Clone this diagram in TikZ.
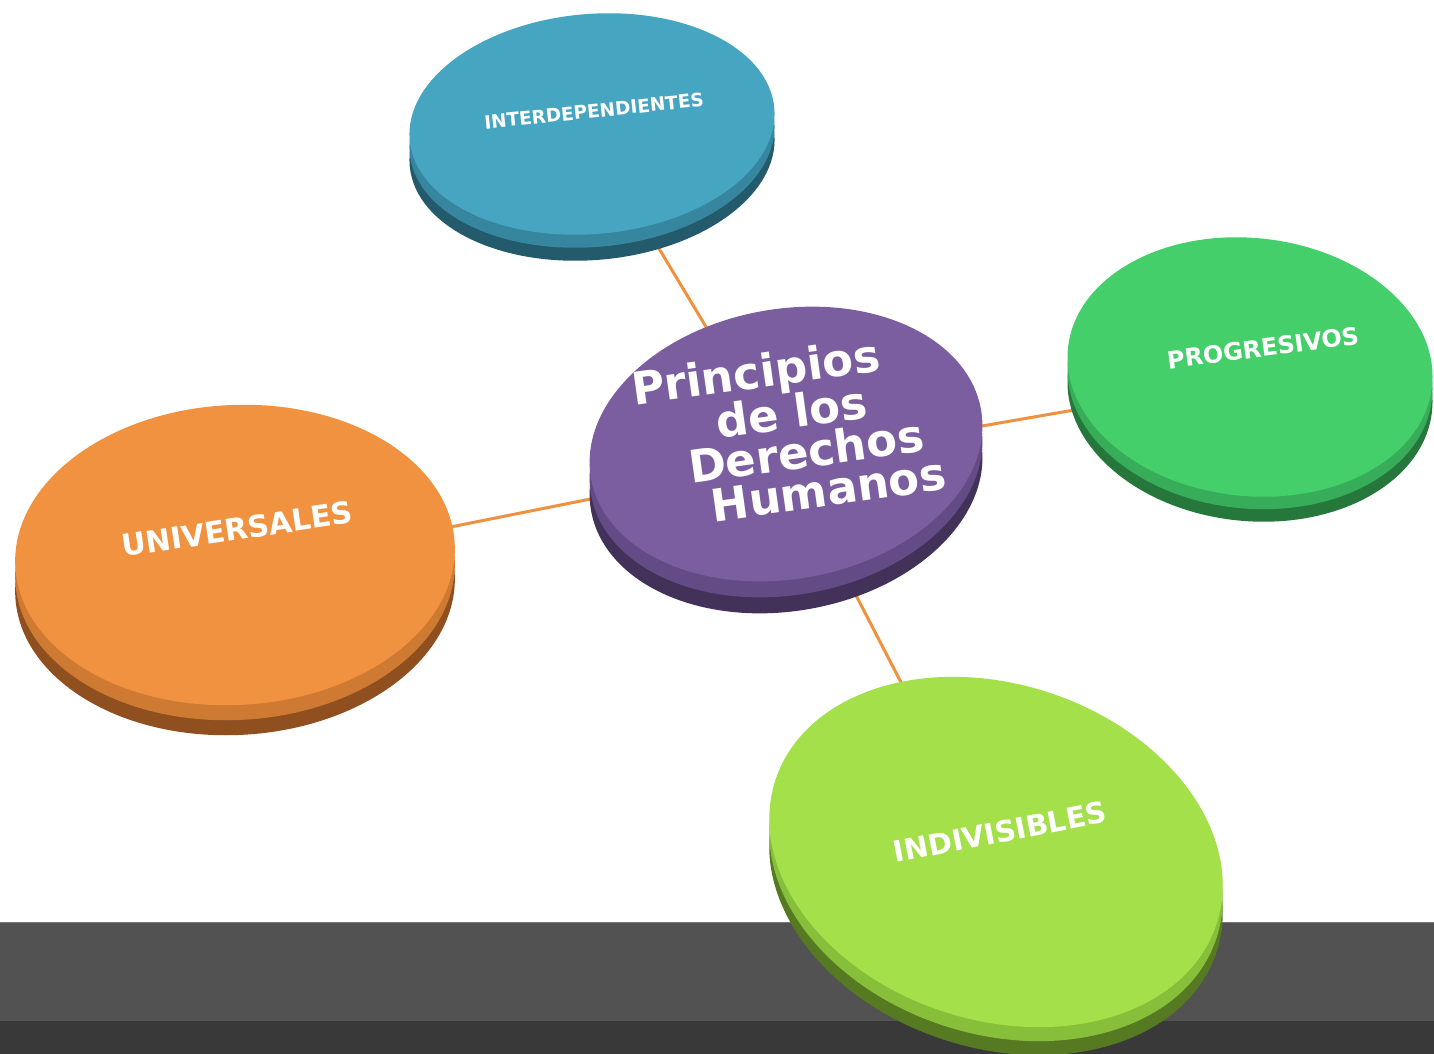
\documentclass[tikz,border=0pt]{standalone}
\usepackage{fontspec}
\newfontfamily\discfont{DejaVu Sans}
\usetikzlibrary{shapes.geometric}
\definecolor{tl-top}{HTML}{46A5C1}
\definecolor{tl-mid}{HTML}{36869F}
\definecolor{tl-side}{HTML}{235A6C}
\definecolor{pu-top}{HTML}{7B5EA0}
\definecolor{pu-mid}{HTML}{634C85}
\definecolor{pu-side}{HTML}{42325A}
\definecolor{or-top}{HTML}{F0923F}
\definecolor{or-mid}{HTML}{CF7A32}
\definecolor{or-side}{HTML}{8F4F1E}
\definecolor{gr-top}{HTML}{44CF6B}
\definecolor{gr-mid}{HTML}{37AD59}
\definecolor{gr-side}{HTML}{25773B}
\definecolor{li-top}{HTML}{A4E04A}
\definecolor{li-mid}{HTML}{88BF3A}
\definecolor{li-side}{HTML}{557A22}
\definecolor{link}{HTML}{F0913F}
\definecolor{band}{HTML}{525252}
\definecolor{band-low}{HTML}{393939}
\definecolor{band-edge}{HTML}{7A7A7A}
\pgfdeclarelayer{bg}
\pgfsetlayers{bg,main}

\begin{document}
\begin{tikzpicture}[x=1pt,y=-1pt,
    disc/.style={ellipse,inner sep=0pt,outer sep=0pt},
    word/.style={text=white,align=center,inner sep=0pt},
    link/.style={draw=link,line width=3pt}]
  \useasboundingbox (0,0) rectangle (1434,1054);
  \clip (0,0) rectangle (1434,1054);
  % discs: side, rim and face
  \foreach \n/\x/\y/\w/\h/\r/\t in {tl/592/124/366/220/5/26, pu/786/444/396/270/10/32,
      or/235/555/440/300/3/30, gr/1250/367/366/258/-6/25, li/996/852/464/336/-18/28}{
    \node[disc,fill=\n-side,minimum width=\w pt,minimum height=\h pt,rotate=\r] (\n-side) at (\x,\y+\t) {};
    \node[disc,fill=\n-mid,minimum width=\w pt,minimum height=\h pt,rotate=\r] (\n-mid) at (\x,\y+\t/2) {};
    \node[disc,fill=\n-top,minimum width=\w pt,minimum height=\h pt,rotate=\r] (\n) at (\x,\y) {};
  }
  \node[word,rotate=6,font=\discfont\bfseries\fontsize{18.5}{22}\selectfont] (tl-txt) at (594,111) {INTERDEPENDIENTES};
  \node[word,rotate=8.4,font=\discfont\bfseries\fontsize{30}{36}\selectfont] (or-txt) at (237,529) {UNIVERSALES};
  \node[word,rotate=7.5,font=\discfont\bfseries\fontsize{24}{29}\selectfont] (gr-txt) at (1263,348) {PROGRESIVOS};
  \node[word,rotate=11,font=\discfont\bfseries\fontsize{29}{35}\selectfont] (li-txt) at (1000,832) {INDIVISIBLES};
  \node[word,rotate=8,font=\discfont\bfseries\fontsize{45}{41}\selectfont] (pu-txt) at (794,430)
    {Principios\hspace*{60pt}\\ de los\hspace*{12pt}\\
     \hspace*{18pt}Derechos\\ \hspace*{52pt}Humanos};
  \begin{pgfonlayer}{bg}
    \fill[white] (0,0) rectangle (1434,1054);
    \fill[band] (0,922) rectangle (1434,1054);
    \fill[band-low] (0,1021) rectangle (1434,1054);
    \draw[band-edge,line width=1.5pt] (0,922.5) -- (1434,922.5);
    \draw[link] (pu-mid) -- (tl-mid);
    \draw[link] (pu-mid) -- (or-mid);
    \draw[link] (pu-mid) -- (gr-mid);
    \draw[link] (pu-mid) -- (li-mid);
  \end{pgfonlayer}
\end{tikzpicture}
\end{document}
